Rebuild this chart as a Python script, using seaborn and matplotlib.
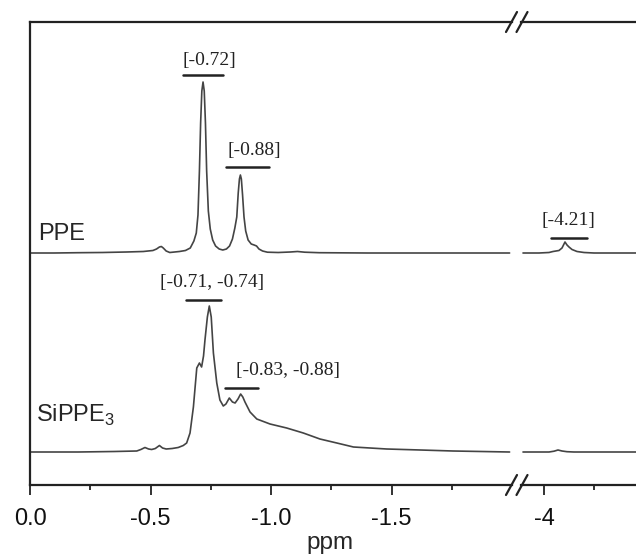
import numpy as np
import pandas as pd
import seaborn as sns
import matplotlib.pyplot as plt
from matplotlib.lines import Line2D

# 1H NMR traces (ppm, intensity above baseline, a.u.)
ppe_ppm = [0.00, -0.10, -0.20, -0.30, -0.40, -0.47, -0.51, -0.525, -0.537, -0.545,
           -0.553, -0.565, -0.58, -0.60, -0.62, -0.645, -0.665, -0.68, -0.690, -0.697,
           -0.703, -0.708, -0.713, -0.718, -0.723, -0.728, -0.733, -0.740, -0.748, -0.758,
           -0.770, -0.785, -0.800, -0.815, -0.828, -0.840, -0.850, -0.858, -0.864, -0.869,
           -0.873, -0.877, -0.882, -0.888, -0.895, -0.905, -0.918, -0.930, -0.940, -0.950,
           -0.965, -0.985, -1.03, -1.08, -1.11, -1.14, -1.20, -1.40, -1.60, -1.80, -1.99]
ppe_int = [0, 0, 0.3, 0.5, 1, 1.5, 2.5, 4, 6, 6.5,
           5, 2, 0.5, 1, 1.5, 2.5, 5, 12, 20, 38,
           82, 130, 162, 171, 162, 130, 82, 42, 24, 13,
           7, 4, 3, 4, 7, 14, 25, 36, 60, 74,
           78, 74, 58, 36, 22, 13, 9, 8, 7, 4,
           2, 0.8, 0.5, 1, 1.5, 0.8, 0.3, 0, 0, 0, 0]

sippe_ppm = [0.00, -0.20, -0.35, -0.443, -0.460, -0.477, -0.492, -0.505, -0.520, -0.537,
             -0.550, -0.565, -0.590, -0.615, -0.636, -0.650, -0.664, -0.678, -0.692, -0.703,
             -0.712, -0.720, -0.726, -0.736, -0.744, -0.752, -0.761, -0.775, -0.788, -0.802,
             -0.813, -0.827, -0.840, -0.851, -0.863, -0.874, -0.883, -0.892, -0.913, -0.941,
             -0.996, -1.065, -1.134, -1.203, -1.273, -1.342, -1.48, -1.62, -1.755, -1.99]
sippe_int = [0, 0, 0.5, 1, 2.5, 4.5, 3, 2.5, 3.5, 6.5,
             4, 3, 3.5, 4.5, 6.5, 9, 19, 45, 84, 89,
             85, 96, 112, 135, 146, 135, 99, 69, 52, 46,
             48, 54, 50, 49, 53, 58, 55, 50, 40, 33,
             28, 24, 19, 13, 9, 5, 3, 2, 1, 0]

# upfield region after the axis break
ppe_far_ppm = [-3.79, -3.95, -4.05, -4.09, -4.12, -4.15, -4.18, -4.20, -4.21,
               -4.23, -4.25, -4.28, -4.33, -4.40, -4.50, -4.70, -4.92]
ppe_far_int = [0, 0, 0.5, 1.5, 2, 2.5, 5, 9, 11, 8, 6, 3.5, 1.5, 0.5, 0, 0, 0]
sippe_far_ppm = [-3.79, -4.05, -4.10, -4.14, -4.18, -4.23, -4.30, -4.92]
sippe_far_int = [0, 0, 0.8, 2, 1, 0.3, 0, 0]

peak_labels = ["[-0.72]", "[-0.88]", "[-0.71, -0.74]", "[-0.83, -0.88]", "[-4.21]"]

sns.set_theme(style="ticks")
plt.rcParams["font.family"] = ["Liberation Sans", "DejaVu Sans"]
plt.rcParams["axes.unicode_minus"] = False
plt.rcParams["mathtext.fontset"] = "custom"
plt.rcParams["mathtext.rm"] = "Liberation Sans"

W, H = 636, 556
fig = plt.figure(figsize=(W / 100, H / 100), dpi=100)
ax1 = fig.add_axes([30 / W, 71 / H, 482 / W, 463 / H])
ax2 = fig.add_axes([521 / W, 71 / H, 115 / W, 463 / H])

offsets = {"PPE": 232, "SiPPE3": 33}


def trace(ppm, inten, name):
    return pd.DataFrame({"ppm": ppm,
                         "y": np.array(inten, dtype=float) + offsets[name],
                         "sample": name})


near = pd.concat([trace(ppe_ppm, ppe_int, "PPE"),
                  trace(sippe_ppm, sippe_int, "SiPPE3")])
far = pd.concat([trace(ppe_far_ppm, ppe_far_int, "PPE"),
                 trace(sippe_far_ppm, sippe_far_int, "SiPPE3")])

dark = "#222222"
for ax, df in [(ax1, near), (ax2, far)]:
    sns.lineplot(data=df, x="ppm", y="y", units="sample", estimator=None,
                 sort=False, color="#444444", lw=1.2, ax=ax, legend=False)
    ax.set_ylim(0, 463)
    ax.set_yticks([])
    ax.set_xlabel("")
    ax.set_ylabel("")
    ax.patch.set_alpha(0)
    for s in ax.spines.values():
        s.set_color(dark)
        s.set_linewidth(1.6)
    ax.spines["right"].set_visible(False)
    ax.tick_params(axis="x", which="major", length=7.5, width=1.3, pad=9,
                   labelsize=17, color=dark, labelcolor="#111111")
    ax.tick_params(axis="x", which="minor", length=3.8, width=1.3, color=dark)

ax2.spines["left"].set_visible(False)

ax1.set_xlim(0, -2.0)
ax1.set_xticks([0, -0.5, -1.0, -1.5])
ax1.set_xticklabels(["0.0", "-0.5", "-1.0", "-1.5"])
ax1.set_xticks([-0.25, -0.75, -1.25, -1.75], minor=True)

ax2.set_xlim(-3.77, -4.92)
ax2.set_xticks([-4])
ax2.set_xticklabels(["-4"])
ax2.set_xticks([-4.5], minor=True)

# sample names
ax1.text(-0.035, 245, "PPE", fontsize=17, ha="left", va="baseline")
ax1.text(-0.025, 63, r"SiPPE$_\mathregular{3}$", fontsize=17, ha="left", va="baseline")

# peak labels with bars
serif = ["Liberation Serif", "DejaVu Serif"]
ann = [(ax1, -0.743, 425, -0.636, -0.800, 410),
       (ax1, -0.929, 335, -0.813, -0.993, 318),
       (ax1, -0.756, 203, -0.647, -0.791, 185),
       (ax1, -1.070, 115, -0.809, -0.947, 97),
       (ax2, -4.245, 264, -4.07, -4.43, 247)]
for label, (ax, tx, ty, b0, b1, by) in zip(peak_labels, ann):
    ax.text(tx, ty, label, family=serif, fontsize=14, ha="center", va="center",
            color="#222222")
    ax.plot([b0, b1], [by, by], color="#222222", lw=1.8)

# axis break marks
for y0 in (22, 485):
    for dx in (0, 10.5):
        x0, x1 = 506 + dx, 517 + dx
        fig.add_artist(Line2D([x0 / W, x1 / W], [(H - y0 - 10) / H, (H - y0 + 10) / H],
                              color=dark, lw=1.6))

fig.text(330 / W, 7 / H, "ppm", fontsize=17.5, ha="center", va="baseline")

fig.savefig("out.png", dpi=100)
